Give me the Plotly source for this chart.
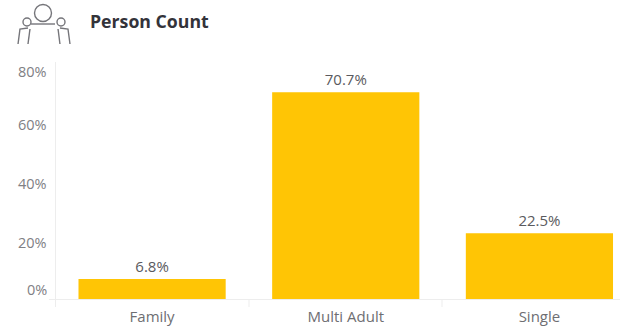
import plotly.graph_objects as go

W, H = 626, 327

categories = ["Family", "Multi Adult", "Single"]
shares = [6.8, 70.7, 22.5]
axis_ticks = [0, 20, 40, 60, 80]
axis_tick_labels = ["0%", "20%", "40%", "60%", "80%"]
# Labels at the ends of the scale are nudged inward so they stay beside the plot.
axis_label_shift = [10, -2, -1, -1, -6]

BAR = "#FFC505"
GREY = "#808084"
LINE = "#EDEDED"
ICON = "#75757A"


def px(x):
    return x / W


def py(y):
    return 1 - y / H


def circle(cx, cy, r):
    return dict(type="circle", xref="paper", yref="paper", x0=px(cx - r), x1=px(cx + r),
                y0=py(cy + r), y1=py(cy - r), line=dict(color=ICON, width=1.4))


def stroke(*pts):
    d = "M " + " L ".join(f"{px(x):.4f} {py(y):.4f}" for x, y in pts)
    return dict(type="path", xref="paper", yref="paper", path=d, line=dict(color=ICON, width=1.4))


fig = go.Figure(go.Bar(
    x=categories,
    y=shares,
    width=0.76,
    marker=dict(color=BAR, line=dict(width=0)),
    text=[f"{v:.1f}%" for v in shares],
    textposition="outside",
    textfont=dict(family="Open Sans", size=15, color="#5A5A5E"),
    cliponaxis=False,
))

# Group icon beside the heading, plus the faint axis frame and category separators.
shapes = [
    circle(43, 13, 8.5), circle(27, 22, 4), circle(61, 22, 4),
    stroke((31, 24), (55, 24)),
    stroke((18, 44), (20, 29), (28, 28)),
    stroke((28, 44), (30, 29)),
    stroke((70, 44), (68, 29), (60, 28)),
    stroke((60, 44), (58, 29)),
    stroke((55.5, 62), (55.5, 307)),
    stroke((49, 299.5), (620, 299.5)),
]
for s in shapes[-2:]:
    s["line"] = dict(color=LINE, width=1)
for sep in (249, 442):
    s = stroke((sep, 299), (sep, 307))
    s["line"] = dict(color=LINE, width=1)
    shapes.append(s)

annotations = [
    dict(text="<b>Person Count</b>", xref="paper", yref="paper", x=px(88), y=py(21),
         xanchor="left", yanchor="middle", showarrow=False,
         font=dict(family="Open Sans", size=17.7, color="#33333A")),
]
for value, label, shift in zip(axis_ticks, axis_tick_labels, axis_label_shift):
    annotations.append(
        dict(text=label, xref="paper", yref="y", x=px(49), y=value, yshift=shift,
             xanchor="right", yanchor="middle", showarrow=False,
             font=dict(family="Open Sans", size=14.5, color=GREY))
    )

fig.update_layout(
    width=W,
    height=H,
    margin=dict(l=0, r=0, t=0, b=0),
    paper_bgcolor="white",
    plot_bgcolor="white",
    showlegend=False,
    shapes=shapes,
    annotations=annotations,
    xaxis=dict(
        domain=[px(55.25), 1],
        range=[-0.5, 2.447],
        showgrid=False,
        zeroline=False,
        showline=False,
        ticks="",
        ticklabelstandoff=7,
        tickfont=dict(family="Open Sans", size=15, color="#6E6E72"),
    ),
    yaxis=dict(
        domain=[py(299), py(65)],
        range=[0, 80],
        tickvals=axis_ticks,
        showticklabels=False,
        showgrid=False,
        zeroline=False,
        showline=False,
        ticks="",
    ),
)

fig.write_html("out.html")
